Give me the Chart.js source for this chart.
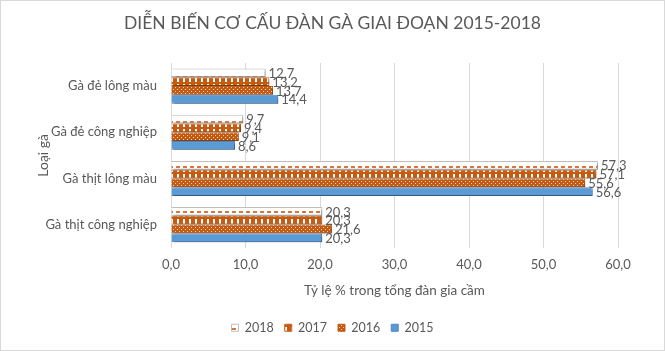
<!DOCTYPE html>
<html>
<head>
<meta charset="utf-8">
<script src="https://cdn.jsdelivr.net/npm/chart.js@4.4.1/dist/chart.umd.min.js"></script>
<style>
    html, body { margin: 0; padding: 0; background: #ffffff; }
    #wrap { width: 663px; height: 349px; border: 1px solid #d9d9d9; }
</style>
</head>
<body>
<div id="wrap"><canvas id="chart" width="663" height="349"></canvas></div>
<script>
// Dữ liệu
const categories = [
    "Gà đẻ lông màu",
    "Gà đẻ công nghiệp",
    "Gà thịt lông màu",
    "Gà thịt công nghiệp",
];
const years = ["2018", "2017", "2016", "2015"];
const data2018 = [12.7, 9.7, 57.3, 20.3];
const data2017 = [13.2, 9.4, 57.1, 20.3];
const data2016 = [13.7, 9.1, 55.6, 21.6];
const data2015 = [14.4, 8.6, 56.6, 20.3];
const xTicks = [0, 10, 20, 30, 40, 50, 60];

const ORANGE = "#c55a11";
const BLUE = "#5b9bd5";
const FONT = "Lato, 'Open Sans', sans-serif";

function makePattern(w, h, draw) {
    const c = document.createElement("canvas");
    c.width = w;
    c.height = h;
    const g = c.getContext("2d");
    draw(g);
    return g.createPattern(c, "repeat");
}

const ctx = document.getElementById("chart").getContext("2d");

// nét đứt ngang (2018)
const pat2018 = makePattern(7, 9, function (g) {
    g.fillStyle = "#ffffff";
    g.fillRect(0, 0, 7, 9);
    g.fillStyle = "#d9773a";
    g.fillRect(0, 3, 4, 2);
});
// sọc dọc (2017)
const pat2017 = makePattern(6, 9, function (g) {
    g.fillStyle = "#ffffff";
    g.fillRect(0, 0, 6, 9);
    g.fillStyle = ORANGE;
    g.fillRect(0, 0, 6, 2);
    g.fillRect(0, 0, 2, 9);
    g.fillRect(4, 0, 2, 9);
});
// chấm (2016)
const pat2016 = makePattern(4, 4, function (g) {
    g.fillStyle = ORANGE;
    g.fillRect(0, 0, 4, 4);
    g.fillStyle = "#f4d3bd";
    g.fillRect(0, 0, 1, 1);
    g.fillRect(2, 2, 1, 1);
});

const seriesData = [data2018, data2017, data2016, data2015];
const fills = [pat2018, pat2017, pat2016, BLUE];
const borders = ["#bfbfbf", ORANGE, ORANGE, "#4a89c2"];

// Bóng đổ cho thanh
const barShadow = {
    id: "barShadow",
    beforeDatasetsDraw(chart) {
        const c = chart.ctx;
        c.save();
        c.shadowColor = "rgba(0,0,0,0.35)";
        c.shadowOffsetX = 2;
        c.shadowOffsetY = 2;
        c.shadowBlur = 2;
    },
    afterDatasetsDraw(chart) {
        chart.ctx.restore();
    },
};

// Nhãn giá trị ở cuối thanh
const valueLabels = {
    id: "valueLabels",
    afterDatasetsDraw(chart) {
        const c = chart.ctx;
        c.save();
        c.font = "13px " + FONT;
        c.fillStyle = "#595959";
        c.textAlign = "left";
        c.textBaseline = "middle";
        chart.data.datasets.forEach(function (ds, i) {
            const meta = chart.getDatasetMeta(i);
            meta.data.forEach(function (bar, j) {
                const txt = ds.data[j].toFixed(1).replace(".", ",");
                c.fillText(txt, bar.x + 3, bar.y + 1);
            });
        });
        c.restore();
    },
};

new Chart(ctx, {
    type: "bar",
    data: {
        labels: categories,
        datasets: years.map(function (y, i) {
            return {
                label: y,
                data: seriesData[i],
                backgroundColor: fills[i],
                borderColor: borders[i],
                borderWidth: 1,
                categoryPercentage: 0.76,
                barPercentage: 1.0,
            };
        }),
    },
    options: {
        indexAxis: "y",
        responsive: false,
        animation: false,
        layout: {
            padding: { left: 0, right: 0, top: 4, bottom: 6 },
        },
        plugins: {
            title: {
                display: true,
                text: "DIỄN BIẾN CƠ CẤU ĐÀN GÀ GIAI ĐOẠN 2015-2018",
                color: "#595959",
                font: { size: 17.5, family: FONT, weight: "normal" },
                padding: { top: 8, bottom: 29 },
            },
            legend: {
                position: "bottom",
                labels: {
                    color: "#595959",
                    boxWidth: 7,
                    boxHeight: 7,
                    padding: 11,
                    font: { size: 12.5, family: FONT },
                },
            },
            tooltip: { enabled: false },
        },
        scales: {
            x: {
                min: 0,
                max: 60,
                afterBuildTicks: function (axis) {
                    axis.ticks = xTicks.map(function (v) { return { value: v }; });
                },
                grid: { color: "#d9d9d9", drawTicks: false },
                border: { display: false },
                ticks: {
                    color: "#595959",
                    padding: 9,
                    font: { size: 13, family: FONT },
                    callback: function (v) {
                        return Number(v).toFixed(1).replace(".", ",");
                    },
                },
                title: {
                    display: true,
                    text: "Tỷ lệ % trong tổng đàn gia cầm",
                    color: "#595959",
                    font: { size: 13.5, family: FONT },
                    padding: { top: 1, bottom: 12 },
                },
            },
            y: {
                afterFit: function (axis) { axis.width = 170; },
                grid: { display: false, drawTicks: false },
                border: { color: "#d9d9d9" },
                ticks: {
                    color: "#595959",
                    padding: 14,
                    font: { size: 13, family: FONT },
                },
                title: {
                    display: true,
                    text: "Loại gà",
                    color: "#595959",
                    font: { size: 14, family: FONT },
                    padding: { top: 34, bottom: 0 },
                },
            },
            yRight: {
                position: "right",
                afterFit: function (axis) { axis.width = 46; },
                grid: { display: false, drawTicks: false },
                border: { display: false },
                ticks: { display: false },
            },
        },
    },
    plugins: [barShadow, valueLabels],
});
</script>
</body>
</html>
